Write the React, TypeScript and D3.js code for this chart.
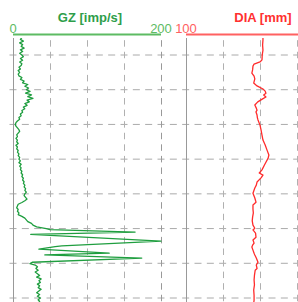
import React from "react";
import * as d3 from "d3";

// depth (m) and gamma (imp/s)
const gzDepth = [
  905, 905.5, 906, 906.5, 907, 907.5, 908, 908.5, 909, 909.5, 910, 910.5, 911, 911.5, 912, 912.5, 913, 913.5, 914, 914.5,
  915, 915.5, 916, 916.5, 917, 917.5, 918, 918.5, 919, 919.5, 920, 920.5, 921, 921.5, 922, 922.5, 923, 923.5, 924, 924.5,
  925, 925.5, 926, 926.5, 927, 927.5, 928, 928.5, 929, 929.5, 930, 930.5, 931, 931.5, 932, 932.5, 933, 933.5, 934, 934.5,
  935, 935.5, 936, 936.5, 937, 937.5, 938, 938.5, 939, 939.5, 940, 940.5, 941, 941.5, 942, 942.5, 943, 943.5, 944, 944.5,
  945, 945.5, 946, 946.5, 947, 947.5, 948, 948.5, 949, 949.5, 950, 950.5, 951, 951.5, 952, 952.5, 953, 953.5, 954, 954.5,
  955, 955.5, 956, 956.5, 957, 957.5, 958, 958.5, 959, 959.5, 960, 960.3, 961.0, 961.7, 963.6, 965.0, 965.2, 965.9,
  967.1, 967.6, 968.5, 969.7, 970.1, 970.5, 971, 971.5, 972, 972.5, 973, 973.5, 974, 974.5, 975, 975.5, 976, 976.5,
  977, 977.5, 978, 978.5, 979, 979.5, 980, 980.5, 981, 981.5,
];
const gzValue = [
  12, 10, 14, 9, 13, 11, 15, 10, 13, 9, 12, 14, 10, 13, 9, 12, 11, 8, 10, 7,
  9, 7, 8, 12, 10, 15, 13, 20, 16, 21, 18, 23, 17, 25, 20, 27, 19, 22, 16, 19,
  14, 16, 12, 13, 10, 11, 8, 9, 6, 4, 3, 4, 6, 8, 9, 7, 5, 6, 4, 6,
  5, 7, 4, 6, 5, 7, 6, 8, 7, 9, 8, 10, 8, 11, 9, 11, 10, 12, 11, 13,
  12, 14, 13, 15, 14, 16, 15, 17, 16, 18, 16, 15, 17, 19, 16, 12, 7, 6, 5, 7,
  6, 8, 7, 12, 16, 18, 20, 25, 27, 32, 45, 50, 165, 24, 200, 66, 57, 35,
  130, 43, 174, 26, 23, 30, 33, 31, 34, 30, 33, 36, 32, 38, 35, 37, 33, 36,
  34, 38, 35, 32, 36, 33, 37, 34, 36, 35,
];

// depth (m) and caliper (mm)
const diaDepth = [
  904.8, 905.7, 907.1, 908.6, 910, 911.4, 912, 912.6, 913.2, 914.3, 915.2, 916.1, 916.9, 918.1, 918.9, 919.8,
  920.4, 921, 921.5, 922.1, 922.7, 923.5, 924.4, 925.3, 925.9, 926.4, 927.3, 928.1, 928.7, 930.2, 931.6, 933.1,
  934.5, 935.9, 937.4, 938.8, 939.7, 940.9, 941.7, 943.1, 944, 944.6, 945.4, 946.6, 947.5, 948.3, 949.8, 951.2,
  952.4, 953.2, 954.4, 955.5, 956.7, 957.8, 959, 959.9, 960.4, 961.3, 962.5, 963.3, 964.2, 964.8, 965.3, 966.2,
  967.1, 967.6, 968.5, 969.7, 970.5, 971.5, 972, 973.5, 974.8, 976.2, 977.7, 979.2, 980.6, 981.5,
];
const diaValue = [
  204, 204, 203.5, 204, 203, 202.7, 200, 192, 190.5, 190, 189, 192, 193, 191.5, 196, 204,
  207, 208, 205, 208, 203, 197, 193, 195, 196, 194.6, 196, 196.5, 197.3, 200, 201.4, 202.7,
  204, 207, 209.5, 212, 211, 208, 206, 202.7, 199, 204, 201.4, 196, 195, 193, 190.5, 193,
  194.6, 190.5, 190.5, 191, 190, 189.5, 190.5, 193, 190.5, 194, 194.6, 190.5, 192, 190, 189, 190.5,
  192, 193, 195, 197.3, 195, 196, 193.5, 192.5, 192, 192.5, 191.5, 192, 192, 191.5,
];

const gzDomain = [0, 200];
const diaDomain = [100, 300];
const gridDepths = [910, 920, 930, 940, 950, 960, 970, 980];

const W = 298;
const H = 302;
const TOP = 38;
const GREEN = "#1f9e3f";
const RED = "#ff2b2b";

export default function App() {
  const y = d3.scaleLinear().domain([910, 980]).range([55, 298]);
  const gzX = d3.scaleLinear().domain(gzDomain).range([13, 161]);
  const diaX = d3.scaleLinear().domain(diaDomain).range([186, 334]);

  const gzLine = d3
    .line<number>()
    .x((_, i) => gzX(gzValue[i]))
    .y((d) => y(d));
  const diaLine = d3
    .line<number>()
    .x((_, i) => diaX(diaValue[i]))
    .y((d) => y(d));

  const step = (y(920) - y(910)) / 3;
  const hStep = (gzX(50) - gzX(0)) / 3;

  const tracks = [
    { x: gzX, title: "GZ [imp/s]", line: "#5dbb63", text: "#2e9e4a", dom: gzDomain },
    { x: diaX, title: "DIA [mm]", line: "#ff6161", text: "#ff3030", dom: diaDomain },
  ];

  return (
    <svg width={W} height={H} style={{ position: "absolute", left: 0, top: 0 }} fontFamily="Liberation Sans, Arial, sans-serif">
      <defs>
        <clipPath id="plot">
          <rect x={0} y={TOP} width={W} height={H - TOP} />
        </clipPath>
      </defs>
      <g clipPath="url(#plot)">
        {gridDepths.map((d) => (
          <line
            key={"h" + d}
            x1={6}
            x2={W}
            y1={y(d)}
            y2={y(d)}
            stroke="#aaa"
            strokeWidth={1}
            strokeDasharray={`7 ${hStep - 7}`}
            strokeDashoffset={-(13 - 3.5 - 6 - hStep)}
          />
        ))}
        {tracks.map((t) =>
          t.x.ticks(4).map((v, i) => {
            const xp = Math.round(t.x(v)) + 0.5;
            if (i === 0) {
              return <line key={t.title + v} x1={xp} x2={xp} y1={TOP} y2={H} stroke="#999" strokeWidth={1} />;
            }
            const start = y(910) - 3.25 - step * 2;
            return (
              <line
                key={t.title + v}
                x1={xp}
                x2={xp}
                y1={start}
                y2={H}
                stroke={i === 4 ? "#999" : "#b0b0b0"}
                strokeWidth={1}
                strokeDasharray={`6.5 ${step - 6.5}`}
              />
            );
          })
        )}
        <path d={gzLine(gzDepth) ?? ""} fill="none" stroke={GREEN} strokeWidth={1.3} strokeLinejoin="round" />
        <path d={diaLine(diaDepth) ?? ""} fill="none" stroke={RED} strokeWidth={1.3} strokeLinejoin="round" />
      </g>
      {tracks.map((t) => {
        const [a, b] = t.x.range();
        return (
          <g key={t.title}>
            <text x={(a + b) / 2 + 3} y={22} textAnchor="middle" fontSize={13} fontWeight="bold" fill={t.text}>
              {t.title}
            </text>
            <line x1={a} x2={b} y1={34.5} y2={34.5} stroke={t.line} strokeWidth={2} />
            <text x={a} y={33} textAnchor="middle" fontSize={13} fill={t.line}>
              {t.dom[0]}
            </text>
            {b < W ? (
              <text x={b} y={33} textAnchor="middle" fontSize={13} fill={t.line}>
                {t.dom[1]}
              </text>
            ) : null}
          </g>
        );
      })}
    </svg>
  );
}
